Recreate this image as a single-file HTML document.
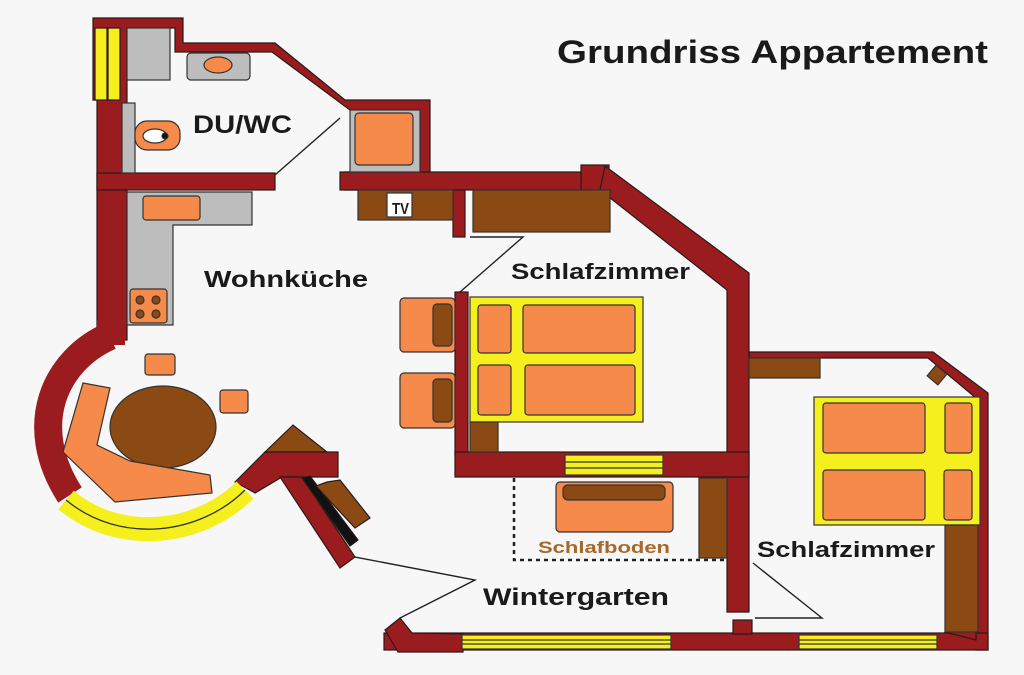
<!DOCTYPE html>
<html><head><meta charset="utf-8"><style>
html,body{margin:0;padding:0;background:#f7f7f7;}
svg{display:block;}
text{font-family:"Liberation Sans",sans-serif;font-weight:bold;fill:#1a1a1a;}
</style></head><body>
<svg width="1024" height="675" viewBox="0 0 1024 675" xmlns="http://www.w3.org/2000/svg">
<rect width="1024" height="675" fill="#f7f7f7"/>
<g stroke="#2a1a1a" stroke-width="1.2">
<!-- top-left bathroom walls -->
<polygon points="93,18 183,18 183,43 275,43 345,100 430,100 430,190 345,190 345,172 420,172 420,110 350,110 272,52 175,52 175,28 127,28 127,340 97,340 97,100 93,100" fill="#9b1c1f"/>
<rect x="95" y="28" width="12" height="72" fill="#f5ef1e"/>
<rect x="108" y="28" width="12" height="72" fill="#f5ef1e"/>
<rect x="97" y="173" width="178" height="17" fill="#9b1c1f"/>
<rect x="340" y="172" width="270" height="18" fill="#9b1c1f"/>
<rect x="581" y="165" width="28" height="25" fill="#9b1c1f"/>
<!-- diagonal and vertical bedroom1 wall -->
<polygon points="605,166 749,273 749,612 727,612 727,290 600,190" fill="#9b1c1f"/>
<rect x="453" y="190" width="12" height="47" fill="#9b1c1f"/>
<rect x="455" y="292" width="13" height="163" fill="#9b1c1f"/>
<rect x="455" y="452" width="294" height="25" fill="#9b1c1f"/>
<!-- right bedroom walls -->
<polygon points="749,352 933,352 988,393 988,650 976,650 976,398 928,358 749,358" fill="#9b1c1f"/>
<rect x="384" y="633" width="604" height="17" fill="#9b1c1f"/>
<rect x="733" y="620" width="19" height="14" fill="#9b1c1f"/>
<polygon points="385,630 400,618 412,633 463,634 463,652 398,652" fill="#9b1c1f"/>
<polygon points="945,632 976,600 976,640" fill="#9b1c1f"/>
<!-- angled walls near wintergarten -->
<polygon points="293,425 265,452 327,452" fill="#8b4a14"/>
<polygon points="235,482 265,452 338,452 338,477 282,477 255,493" fill="#9b1c1f"/>
<polygon points="280,477 302,477 355,557 340,568" fill="#9b1c1f"/>
<polygon points="302,478 310,476 358,540 350,546" fill="#111"/>
<polygon points="327,482 340,480 370,518 355,528 316,486" fill="#8b4a14"/>
<!-- curved wall -->
<path d="M110,336 C55,360 25,425 70,495" fill="none" stroke="#9b1c1f" stroke-width="28"/>
<path d="M66,500 C120,545 200,535 245,490" fill="none" stroke="#f5ef1e" stroke-width="24"/>
<path d="M66,500 C120,545 200,535 245,490" fill="none" stroke="#333" stroke-width="1.3"/>
<rect x="97" y="320" width="28" height="25" fill="#9b1c1f" stroke="none"/>
</g>
<!-- bathroom fixtures -->
<g stroke="#333" stroke-width="1.2">
<rect x="127" y="28" width="43" height="52" fill="#bdbdbd"/>
<rect x="187" y="53" width="63" height="27" rx="4" fill="#bdbdbd"/>
<ellipse cx="218" cy="65" rx="14" ry="8" fill="#f58a4a"/>
<rect x="122" y="103" width="13" height="70" fill="#bdbdbd"/>
<rect x="135" y="121" width="45" height="29" rx="12" fill="#f58a4a"/>
<ellipse cx="155" cy="136" rx="12" ry="7" fill="#fff"/>
<circle cx="165" cy="136" r="3" fill="#111"/>
<rect x="350" y="110" width="70" height="62" fill="#bdbdbd"/>
<rect x="355" y="113" width="58" height="52" rx="4" fill="#f58a4a"/>
<!-- kitchen -->
<path d="M127,192 H252 V225 H173 V325 H127 Z" fill="#bdbdbd"/>
<rect x="143" y="196" width="57" height="24" rx="3" fill="#f58a4a"/>
<rect x="130" y="289" width="37" height="34" rx="3" fill="#f58a4a"/>
<circle cx="140" cy="300" r="4" fill="#8b4a14"/><circle cx="156" cy="300" r="4" fill="#8b4a14"/>
<circle cx="140" cy="314" r="4" fill="#8b4a14"/><circle cx="156" cy="314" r="4" fill="#8b4a14"/>
<!-- TV -->
<rect x="358" y="190" width="95" height="30" fill="#8b4a14"/>
<rect x="387" y="193" width="25" height="24" fill="#fff"/>
<rect x="473" y="190" width="137" height="42" fill="#8b4a14"/>
<!-- dining -->
<ellipse cx="163" cy="427" rx="53" ry="41" fill="#8b4a14"/>
<rect x="145" y="354" width="30" height="21" rx="3" fill="#f58a4a"/>
<rect x="220" y="390" width="28" height="23" rx="3" fill="#f58a4a"/>
<polygon points="83,383 110,388 97,445 130,461 210,475 212,493 115,502 63,452" fill="#f58a4a"/>
<!-- bedroom1 -->
<rect x="400" y="298" width="55" height="54" rx="4" fill="#f58a4a"/>
<rect x="433" y="304" width="19" height="42" rx="4" fill="#8b4a14"/>
<rect x="400" y="373" width="55" height="55" rx="4" fill="#f58a4a"/>
<rect x="433" y="379" width="19" height="43" rx="4" fill="#8b4a14"/>
<rect x="470" y="297" width="173" height="125" fill="#f5ef1e"/>
<rect x="478" y="305" width="33" height="48" rx="3" fill="#f58a4a"/>
<rect x="523" y="305" width="112" height="48" rx="3" fill="#f58a4a"/>
<rect x="478" y="365" width="33" height="50" rx="3" fill="#f58a4a"/>
<rect x="525" y="365" width="110" height="50" rx="3" fill="#f58a4a"/>
<rect x="470" y="422" width="28" height="30" fill="#8b4a14"/>
<rect x="565" y="455" width="98" height="20" fill="#f5ef1e"/>
<line x1="565" y1="462" x2="663" y2="462"/><line x1="565" y1="468" x2="663" y2="468"/>
<!-- Schlafboden -->
<rect x="699" y="478" width="28" height="80" fill="#8b4a14"/>
<rect x="556" y="482" width="117" height="50" rx="4" fill="#f58a4a"/>
<rect x="563" y="485" width="102" height="15" rx="5" fill="#8b4a14"/>
<!-- bedroom2 -->
<rect x="749" y="358" width="71" height="20" fill="#8b4a14"/>
<rect x="930" y="368" width="14" height="14" fill="#8b4a14" transform="rotate(40 937 375)"/>
<rect x="814" y="397" width="166" height="128" fill="#f5ef1e"/>
<rect x="823" y="403" width="102" height="50" rx="3" fill="#f58a4a"/>
<rect x="823" y="470" width="102" height="50" rx="3" fill="#f58a4a"/>
<rect x="945" y="403" width="27" height="50" rx="3" fill="#f58a4a"/>
<rect x="944" y="470" width="28" height="50" rx="3" fill="#f58a4a"/>
<rect x="945" y="525" width="33" height="107" fill="#8b4a14"/>
<!-- windows bottom -->
<rect x="462" y="635" width="209" height="14" fill="#f5ef1e"/>
<line x1="462" y1="640" x2="671" y2="640"/><line x1="462" y1="644" x2="671" y2="644"/>
<rect x="799" y="635" width="138" height="14" fill="#f5ef1e"/>
<line x1="799" y1="640" x2="937" y2="640"/><line x1="799" y1="644" x2="937" y2="644"/>
</g>
<!-- door lines -->
<g stroke="#222" stroke-width="1.4" fill="none">
<polyline points="275,175 340,118"/>
<polyline points="470,237 523,237 460,292"/>
<polyline points="753,563 822,618 755,618"/>
<polyline points="355,557 475,580 400,618"/>
<polyline points="514,478 514,560 727,560" stroke-dasharray="4,4" stroke-width="2.5"/>
</g>
<text x="557" y="63" font-size="32" textLength="431" lengthAdjust="spacingAndGlyphs">Grundriss Appartement</text>
<text x="193" y="133" font-size="25" textLength="99" lengthAdjust="spacingAndGlyphs">DU/WC</text>
<text x="392" y="214" font-size="16" fill="#111" textLength="17" lengthAdjust="spacingAndGlyphs">TV</text>
<text x="204" y="287" font-size="23" textLength="164" lengthAdjust="spacingAndGlyphs">Wohnküche</text>
<text x="511" y="279" font-size="22" textLength="179" lengthAdjust="spacingAndGlyphs">Schlafzimmer</text>
<text x="538" y="553" font-size="17" style="fill:#a8682a" textLength="132" lengthAdjust="spacingAndGlyphs">Schlafboden</text>
<text x="757" y="557" font-size="22" textLength="178" lengthAdjust="spacingAndGlyphs">Schlafzimmer</text>
<text x="483" y="605" font-size="24" textLength="186" lengthAdjust="spacingAndGlyphs">Wintergarten</text>
</svg>
</body></html>
